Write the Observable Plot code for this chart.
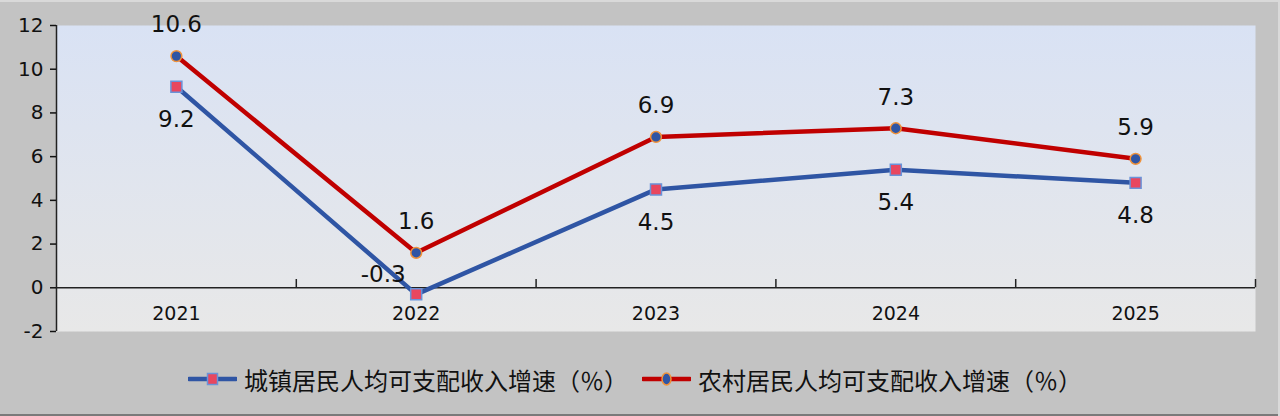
<!DOCTYPE html>
<html>
<head>
<meta charset="utf-8">
<script src="https://cdn.jsdelivr.net/npm/d3@7"></script>
<script src="https://cdn.jsdelivr.net/npm/@observablehq/plot@0.6"></script>
<style>
html, body { margin: 0; padding: 0; background: #c3c3c3; }
#wrap {
  position: relative; width: 1280px; height: 416px; overflow: hidden;
  background: #c3c3c3;
  box-shadow: inset 0 2px 0 #d9d9d9, inset -2px 0 0 #d9d9d9, inset 0 -2px 0 #7a7a7a;
}
#chart { position: absolute; left: 0; top: 0; }
#chart svg g[aria-label="y-axis tick label"] text { font-size: 20px; }
#chart svg g[aria-label="x-axis tick label"] text { font-size: 19px; }
#legend {
  position: absolute; left: 188px; top: 350px; height: 66px;
  display: flex; align-items: center; padding-bottom: 8px; box-sizing: border-box;
  font-family: "Noto Sans CJK SC", "Noto Sans", sans-serif; font-size: 24px; color: #111;
}
.item { display: flex; align-items: center; margin-right: 14px; }
.item svg { margin-right: 7px; }
</style>
</head>
<body>
<div id="wrap">
  <div id="chart"></div>
  <div id="legend"></div>
</div>
<script>
// ---- data ----
const years = [2021, 2022, 2023, 2024, 2025];
const urban = [9.2, -0.3, 4.5, 5.4, 4.8];
const rural = [10.6, 1.6, 6.9, 7.3, 5.9];
const yTicks = [-2, 0, 2, 4, 6, 8, 10, 12];
const seriesNames = ["城镇居民人均可支配收入增速（％）", "农村居民人均可支配收入增速（％）"];

const blue = "#2f55a4", red = "#c00000", pink = "#e8475f", lightBlue = "#6a93d9", orange = "#f0923a";

const rows = years.map((year, i) => ({year, urban: urban[i], rural: rural[i]}));
const bounds = years.map(y => y + 0.5);
const fmt = v => v.toFixed(1);

const chart = Plot.plot({
  width: 1280,
  height: 350,
  marginLeft: 56,
  marginRight: 25,
  marginTop: 25,
  marginBottom: 19,
  style: {fontFamily: "'DejaVu Sans', sans-serif", fontSize: "18px", background: "transparent", color: "#111"},
  x: {type: "linear", domain: [years[0] - 0.5, years[years.length - 1] + 0.5]},
  y: {domain: [yTicks[0], yTicks[yTicks.length - 1]]},
  marks: [
    Plot.frame({fill: "url(#bgGrad)", stroke: "none"}),
    Plot.ruleX([years[0] - 0.5], {stroke: "#222", strokeWidth: 1.5}),
    Plot.ruleY([0], {stroke: "#222", strokeWidth: 1.5}),
    Plot.ruleX(bounds, {x: d => d, y1: 0, y2: 0.38, stroke: "#222", strokeWidth: 1.5}),
    Plot.axisY({ticks: yTicks, tickSize: 6, tickPadding: 7, fontSize: 20, label: null, tickFormat: d => String(d), strokeWidth: 1.5}),
    Plot.axisX({ticks: years, tickSize: 0, tickPadding: 0, dy: -25, fontSize: 19, label: null, tickFormat: d => String(d)}),
    Plot.line(rows, {x: "year", y: "urban", stroke: blue, strokeWidth: 4.5}),
    Plot.line(rows, {x: "year", y: "rural", stroke: red, strokeWidth: 4.5}),
    Plot.dot(rows, {x: "year", y: "urban", symbol: "square", r: 6.2, fill: pink, stroke: lightBlue, strokeWidth: 1.5}),
    Plot.dot(rows, {x: "year", y: "rural", symbol: "circle", r: 5.4, fill: blue, stroke: orange, strokeWidth: 1.5}),
    Plot.text(rows, {x: "year", y: "rural", text: d => fmt(d.rural), dy: -31, fontSize: 23, fill: "#111"}),
    Plot.text(rows.filter(d => d.urban >= 0), {x: "year", y: "urban", text: d => fmt(d.urban), dy: 33, fontSize: 23, fill: "#111"}),
    Plot.text(rows.filter(d => d.urban < 0), {x: "year", y: "urban", text: d => fmt(d.urban), dx: -33, dy: -20, fontSize: 23, fill: "#111"})
  ]
});

// gradient for plot background
const svg = d3.select(chart);
const defs = svg.insert("defs", ":first-child");
const lg = defs.append("linearGradient").attr("id", "bgGrad").attr("x1", 0).attr("y1", 0).attr("x2", 0).attr("y2", 1);
lg.append("stop").attr("offset", "0%").attr("stop-color", "#d9e2f4");
lg.append("stop").attr("offset", "100%").attr("stop-color", "#e8e8e8");

document.getElementById("chart").appendChild(chart);

// legend
const legend = d3.select("#legend");
const legendDefs = [
  {name: seriesNames[0], line: blue, symbol: "square", fill: pink, stroke: lightBlue},
  {name: seriesNames[1], line: red, symbol: "circle", fill: blue, stroke: orange}
];
for (const s of legendDefs) {
  const item = legend.append("div").attr("class", "item");
  const sw = item.append("svg").attr("width", 49).attr("height", 16);
  sw.append("line").attr("x1", 1).attr("x2", 48).attr("y1", 8).attr("y2", 8)
    .attr("stroke", s.line).attr("stroke-width", 4.5).attr("stroke-linecap", "round");
  if (s.symbol === "square") {
    sw.append("rect").attr("x", 19.5).attr("y", 2.5).attr("width", 10).attr("height", 11)
      .attr("fill", s.fill).attr("stroke", s.stroke).attr("stroke-width", 1.5);
  } else {
    sw.append("ellipse").attr("cx", 24.5).attr("cy", 8).attr("rx", 4.5).attr("ry", 6)
      .attr("fill", s.fill).attr("stroke", s.stroke).attr("stroke-width", 1.5);
  }
  item.append("span").text(s.name);
}
</script>
</body>
</html>
